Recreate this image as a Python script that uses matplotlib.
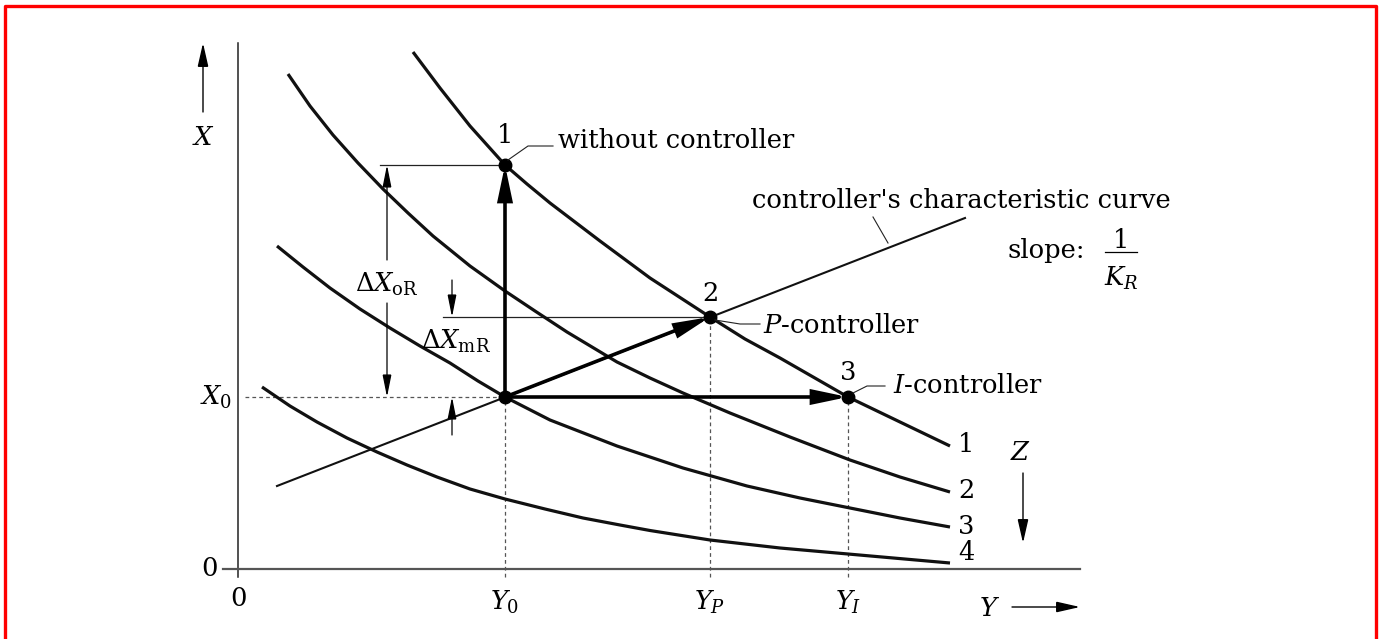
import matplotlib
matplotlib.use("Agg")
import matplotlib.pyplot as plt
from matplotlib.lines import Line2D

plt.rcParams["font.family"] = ["DejaVu Serif"]
plt.rcParams["mathtext.fontset"] = "dejavuserif"

# chart units: Y to the right (load), X upward (controlled variable)
curve1_y = [1.75, 2.02, 2.32, 2.67, 2.89, 3.12, 3.62, 4.12, 4.72, 5.07, 5.42, 6.10, 6.62, 7.12]
curve1_x = [5.17, 4.81, 4.43, 4.04, 3.85, 3.66, 3.28, 2.91, 2.52, 2.30, 2.11, 1.72, 1.47, 1.23]
curve2_y = [0.50, 0.72, 0.95, 1.20, 1.45, 1.70, 1.95, 2.32, 2.67, 2.97, 3.29, 3.79, 4.12,
            4.45, 4.92, 5.52, 6.12, 6.62, 7.12]
curve2_x = [4.95, 4.63, 4.34, 4.06, 3.80, 3.56, 3.33, 3.03, 2.78, 2.58, 2.37, 2.07, 1.91,
            1.76, 1.56, 1.32, 1.09, 0.92, 0.77]
curve3_y = [0.39, 0.65, 0.92, 1.22, 1.52, 1.82, 2.12, 2.40, 2.67, 3.12, 3.79, 4.45, 5.09,
            5.62, 6.12, 6.62, 7.12]
curve3_x = [3.23, 3.02, 2.81, 2.60, 2.41, 2.23, 2.06, 1.88, 1.72, 1.49, 1.23, 1.01, 0.83,
            0.71, 0.61, 0.51, 0.42]
curve4_y = [0.24, 0.52, 0.79, 1.09, 1.39, 1.69, 1.99, 2.32, 2.67, 3.07, 3.45, 3.82, 4.12,
            4.72, 5.42, 6.10, 7.12]
curve4_x = [1.82, 1.63, 1.47, 1.31, 1.17, 1.04, 0.92, 0.80, 0.70, 0.60, 0.51, 0.44, 0.385,
            0.29, 0.21, 0.15, 0.06]
curve_labels = ["1", "2", "3", "4"]
curve_label_x = [1.24, 0.78, 0.43, 0.16]

# controller's characteristic line
ctrl_y = [0.39, 7.27]
ctrl_x = [0.83, 3.51]

# operating points
Y0, X0 = 2.67, 1.72
YP, XP = 4.72, 2.52
YI = 6.10
X1 = 4.04

fig = plt.figure(figsize=(13.83, 6.39), dpi=100)
ax = fig.add_axes([0, 0, 1, 1])
ax.set_xlim(-2.38, 11.45)
ax.set_ylim(-0.70, 5.69)
ax.axis("off")

FS = 18.5


def arrow(tail, head, lw=0.9, hl=1.35, hw=0.27):
    ax.annotate("", xy=head, xytext=tail,
                arrowprops=dict(arrowstyle=f"-|>,head_length={hl},head_width={hw}",
                                lw=lw, color="black", shrinkA=0, shrinkB=0,
                                mutation_scale=10, joinstyle="miter"))


# axes
ax.plot([0, 0], [-0.08, 5.26], color="#222222", lw=1.1)
ax.plot([-0.15, 8.42], [0, 0], color="#555555", lw=1.6)

# dashed guides
dash = dict(color="#555555", lw=0.9, ls=(0, (3, 2.5)))
ax.plot([0.07, Y0], [X0, X0], **dash)
ax.plot([Y0, Y0], [-0.08, X0], **dash)
ax.plot([YP, YP], [-0.08, XP], **dash)
ax.plot([YI, YI], [-0.08, X0], **dash)

# thin reference lines
ax.plot([1.42, Y0], [X1, X1], color="#222222", lw=0.9)
ax.plot([2.05, YP], [XP, XP], color="#222222", lw=0.9)

# characteristic curves
for cy, cx in [(curve1_y, curve1_x), (curve2_y, curve2_x),
               (curve3_y, curve3_x), (curve4_y, curve4_x)]:
    ax.plot(cy, cx, color="#111111", lw=2.3, solid_joinstyle="round",
            solid_capstyle="butt")
ax.plot(ctrl_y, ctrl_x, color="#111111", lw=1.5)

# curve numbers
for lab, cy, lx in zip(curve_labels, [curve1_y, curve2_y, curve3_y, curve4_y],
                       curve_label_x):
    ax.text(cy[-1] + 0.16, lx, lab, fontsize=FS, ha="center", va="center")

# thick arrows from the initial point
arrow((Y0, X0), (Y0, X1), lw=2.6, hl=2.0, hw=0.42)
arrow((Y0, X0), (YP, XP), lw=2.6, hl=2.0, hw=0.42)
arrow((Y0, X0), (YI, X0), lw=2.6, hl=2.0, hw=0.42)

# operating points
ax.plot([Y0, Y0, YP, YI], [X0, X1, XP, X0], "o", color="black", ms=9)

# deviation arrows
arrow((1.49, 3.09), (1.49, X1))
arrow((1.49, 2.66), (1.49, X0))
arrow((2.14, 2.89), (2.14, XP))
arrow((2.14, 1.34), (2.14, X0))
ax.text(1.49, 2.85, r"$\mathit{\Delta X}_{\mathrm{oR}}$", fontsize=FS, ha="center", va="center")
ax.text(2.18, 2.28, r"$\mathit{\Delta X}_{\mathrm{mR}}$", fontsize=FS, ha="center", va="center")

# point labels and leaders
ax.text(Y0, 4.34, "1", fontsize=FS, ha="center", va="center")
ax.plot([2.70, 2.90, 3.15], [4.09, 4.23, 4.23], color="#222222", lw=0.8)
ax.text(3.20, 4.29, "without controller", fontsize=FS, ha="left", va="center")

ax.text(YP, 2.76, "2", fontsize=FS, ha="center", va="center")
ax.plot([4.77, 5.02, 5.22], [2.49, 2.45, 2.45], color="#222222", lw=0.8)
ax.text(5.25, 2.44, r"$P$-controller", fontsize=FS, ha="left", va="center")

ax.text(YI, 1.97, "3", fontsize=FS, ha="center", va="center")
ax.plot([6.15, 6.29, 6.47], [1.76, 1.83, 1.83], color="#222222", lw=0.8)
ax.text(6.55, 1.84, r"$I$-controller", fontsize=FS, ha="left", va="center")

ax.text(5.14, 3.69, "controller's characteristic curve", fontsize=FS, ha="left", va="center")
ax.plot([6.35, 6.50], [3.52, 3.26], color="#222222", lw=0.8)
ax.text(7.69, 3.19, "slope:", fontsize=FS, ha="left", va="center")
ax.text(8.83, 3.29, "1", fontsize=FS, ha="center", va="center")
ax.plot([8.67, 8.99], [3.17, 3.17], color="black", lw=0.9)
ax.text(8.83, 2.91, r"$K_R$", fontsize=FS, ha="center", va="center")

# axis labels
ax.text(-0.35, 4.32, r"$X$", fontsize=FS, ha="center", va="center")
arrow((-0.35, 4.57), (-0.35, 5.26), lw=1.0, hl=1.45, hw=0.33)
ax.text(-0.06, X0, r"$X_0$", fontsize=FS, ha="right", va="center")
ax.text(-0.20, 0.0, "0", fontsize=FS, ha="right", va="center")
ax.text(0.0, -0.30, "0", fontsize=FS, ha="center", va="center")
for yv, lab in [(Y0, r"$Y_0$"), (YP, r"$Y_P$"), (YI, r"$Y_I$")]:
    ax.text(yv, -0.33, lab, fontsize=FS, ha="center", va="center")
ax.text(7.52, -0.39, r"$Y$", fontsize=FS, ha="center", va="center")
arrow((7.74, -0.38), (8.42, -0.38), lw=1.0, hl=1.45, hw=0.33)
ax.text(7.82, 1.17, r"$Z$", fontsize=FS, ha="center", va="center")
arrow((7.85, 0.96), (7.85, 0.26), lw=1.0, hl=1.45, hw=0.33)

# red frame (open at the bottom)
W, H = 1383, 639
fig.add_artist(Line2D([5 / W, 5 / W, 1376 / W, 1376 / W],
                      [0, 1 - 6 / H, 1 - 6 / H, 0],
                      transform=fig.transFigure, color="#ff0000", lw=2.4))

fig.savefig("out.png", dpi=100, facecolor="white")
